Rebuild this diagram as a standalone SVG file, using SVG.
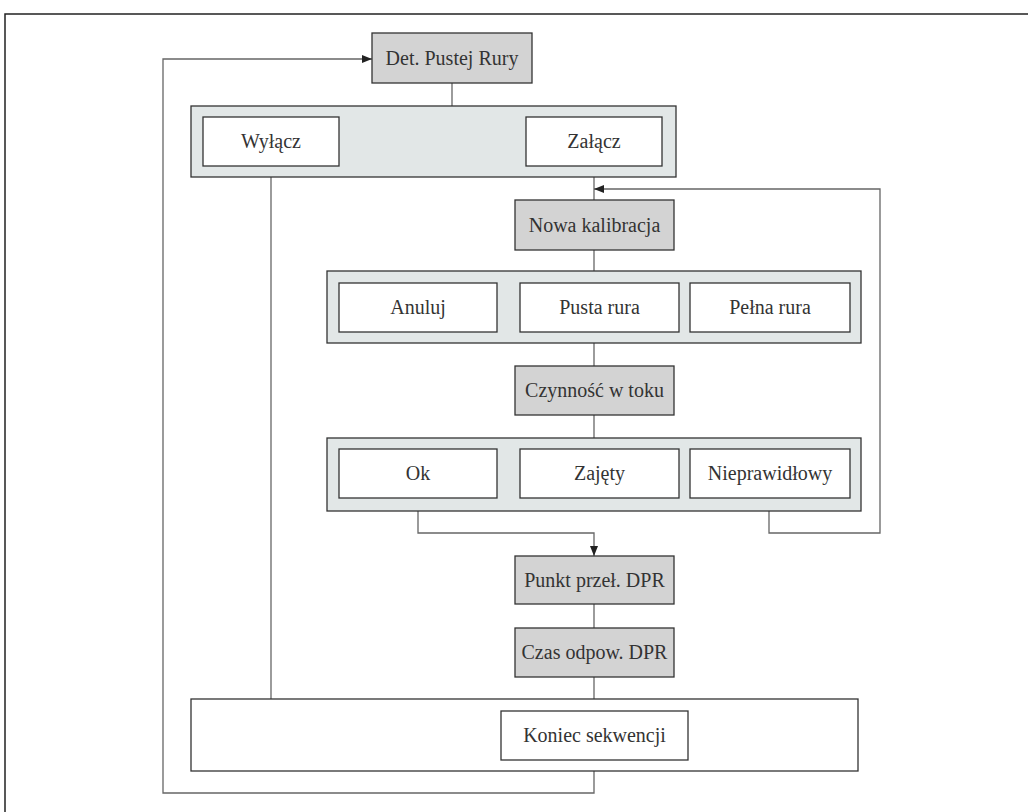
<svg xmlns="http://www.w3.org/2000/svg" width="1028" height="812" viewBox="0 0 1028 812">
<defs>
<style>
.frame{fill:none;stroke:#222;stroke-width:1.5}
.grp{fill:#e2e7e7;stroke:#333;stroke-width:1.3}
.gray{fill:#d3d3d3;stroke:#333;stroke-width:1.3}
.opt{fill:#fff;stroke:#333;stroke-width:1.3}
.end{fill:#fff;stroke:#333;stroke-width:1.3}
.lbl{font-family:"Liberation Serif","DejaVu Serif",serif;font-size:20px;fill:#333;text-anchor:middle}
.con{fill:none;stroke:#666;stroke-width:1.3}
</style>
<marker id="ah" viewBox="0 0 10 8" refX="10" refY="4" markerWidth="10" markerHeight="8" markerUnits="userSpaceOnUse" orient="auto">
<path d="M0,0 L10,4 L0,8 Z" fill="#222"/>
</marker>
</defs>
<rect x="0" y="0" width="1028" height="812" fill="#fff"/>
<rect class="frame" x="5" y="14" width="1040" height="820"/>

<g id="connectors">
<path class="con" d="M452,83 V106"/>
<path class="con" d="M271,177 V699"/>
<path class="con" d="M594,177 V200"/>
<path class="con" d="M769,511 V533 H880 V189 H594" marker-end="url(#ah)"/>
<path class="con" d="M594,250 V271"/>
<path class="con" d="M594,343 V366"/>
<path class="con" d="M594,415 V438"/>
<path class="con" d="M418,511 V533 H594 V556" marker-end="url(#ah)"/>
<path class="con" d="M594,604 V628"/>
<path class="con" d="M594,677 V699"/>
<path class="con" d="M594,771 V793 H163 V59 H372" marker-end="url(#ah)"/>
</g>

<g id="det">
<rect class="gray" x="372" y="33" width="160" height="50"/>
<text class="lbl" x="452" y="65">Det. Pustej Rury</text>
</g>

<g id="group1">
<rect class="grp" x="191" y="106" width="485" height="71"/>
</g>
<g id="wylacz">
<rect class="opt" x="203" y="117" width="136" height="49"/>
<text class="lbl" x="271" y="148">Wyłącz</text>
</g>
<g id="zalacz">
<rect class="opt" x="526" y="117" width="136" height="49"/>
<text class="lbl" x="594" y="148">Załącz</text>
</g>

<g id="nowa">
<rect class="gray" x="515" y="200" width="159" height="50"/>
<text class="lbl" x="594.5" y="232">Nowa kalibracja</text>
</g>

<g id="group2">
<rect class="grp" x="327" y="271" width="534" height="72"/>
</g>
<g id="anuluj">
<rect class="opt" x="339" y="283" width="158" height="49"/>
<text class="lbl" x="418" y="314">Anuluj</text>
</g>
<g id="pusta">
<rect class="opt" x="520" y="283" width="159" height="49"/>
<text class="lbl" x="599.5" y="314">Pusta rura</text>
</g>
<g id="pelna">
<rect class="opt" x="690" y="283" width="160" height="49"/>
<text class="lbl" x="770" y="314">Pełna rura</text>
</g>

<g id="czynnosc">
<rect class="gray" x="515" y="366" width="159" height="49"/>
<text class="lbl" x="594.5" y="397">Czynność w toku</text>
</g>

<g id="group3">
<rect class="grp" x="327" y="438" width="534" height="73"/>
</g>
<g id="ok">
<rect class="opt" x="339" y="449" width="158" height="49"/>
<text class="lbl" x="418" y="480">Ok</text>
</g>
<g id="zajety">
<rect class="opt" x="520" y="449" width="159" height="49"/>
<text class="lbl" x="599.5" y="480">Zajęty</text>
</g>
<g id="nieprawidlowy">
<rect class="opt" x="690" y="449" width="160" height="49"/>
<text class="lbl" x="770" y="480">Nieprawidłowy</text>
</g>

<g id="punkt">
<rect class="gray" x="515" y="556" width="159" height="48"/>
<text class="lbl" x="594.5" y="587">Punkt przeł. DPR</text>
</g>

<g id="czas">
<rect class="gray" x="515" y="628" width="159" height="49"/>
<text class="lbl" x="594.5" y="659">Czas odpow. DPR</text>
</g>

<g id="koniec-group">
<rect class="end" x="191" y="699" width="667" height="72"/>
</g>
<g id="koniec">
<rect class="opt" x="501" y="711" width="187" height="49"/>
<text class="lbl" x="594.5" y="742">Koniec sekwencji</text>
</g>
</svg>
